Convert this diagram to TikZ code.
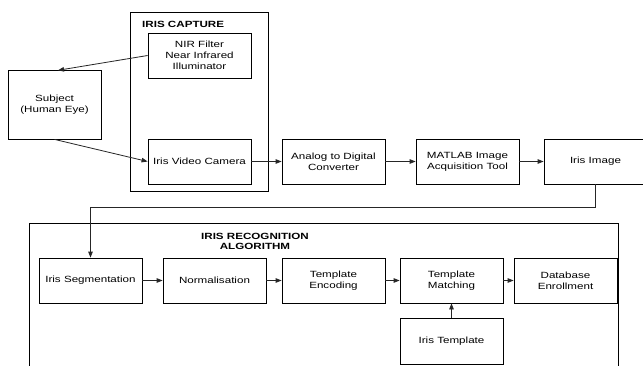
\documentclass[tikz,border=0pt]{standalone}
\usepackage{fontspec}
\setmainfont{Liberation Sans}[FakeStretch=1.29]
\usetikzlibrary{arrows.meta}
\begin{document}
\begin{tikzpicture}[x=1pt,y=-1pt,
  blk/.style={draw=black,line width=0.8pt,minimum width=103pt,minimum height=45pt,inner sep=0pt,align=center,font=\fontsize{9}{11}\selectfont},
  conn/.style={draw=black!85,line width=0.8pt,-{Triangle[length=6pt,width=4.5pt]}},
  frame/.style={draw=black,line width=0.8pt},
  ttl/.style={font=\bfseries\fontsize{9}{10}\selectfont,align=center,inner sep=0pt}]
\clip (0,0) rectangle (643,365);
\fill[white] (0,0) rectangle (643,365);
% frames
\draw[frame] (130,12) rectangle (268,191);
\node[ttl,anchor=west] (capt) at (142,24.7) {IRIS CAPTURE};
\draw[frame] (29,370) -- (29,223) -- (618,223) -- (618,370);
\node[ttl] (rect) at (255,241) {IRIS RECOGNITION\\ALGORITHM};
% nodes
\node[blk] (nir) at (199.5,55.5) {NIR Filter\\Near Infrared\\Illuminator};
\node[blk,minimum width=93pt,minimum height=69pt] (subj) at (54.5,104.5) {Subject\\(Human Eye)};
\node[blk] (cam) at (199.5,161.5) {Iris Video Camera};
\node[blk] (adc) at (333.5,161.5) {Analog to Digital\\Converter};
\node[blk] (mat) at (467.5,161.5) {MATLAB Image\\Acquisition Tool};
\node[blk] (img) at (595.5,161.5) {Iris Image};
\node[blk] (seg) at (90.5,280.5) {Iris Segmentation};
\node[blk] (norm) at (214.5,280.5) {Normalisation};
\node[blk] (enc) at (333.5,280.5) {Template\\Encoding};
\node[blk] (match) at (451.5,280.5) {Template\\Matching};
\node[blk] (db) at (565.5,280.5) {Database\\Enrollment};
\node[blk,minimum height=46pt] (tmpl) at (451.5,341) {Iris Template};
% connectors
\coordinate (subjin) at (58,70.3);
\draw[conn] (nir.west) -- (subjin);
\draw[conn] (subj.south) -- (cam.west);
\draw[conn] (cam) -- (adc);
\draw[conn] (adc) -- (mat);
\draw[conn] (mat) -- (img);
\draw[conn] (img.south) -- ++(0,23) -| (seg.north);
\draw[conn] (seg) -- (norm);
\draw[conn] (norm) -- (enc);
\draw[conn] (enc) -- (match);
\draw[conn] (match) -- (db);
\draw[conn] (tmpl) -- (match);
\end{tikzpicture}
\end{document}
